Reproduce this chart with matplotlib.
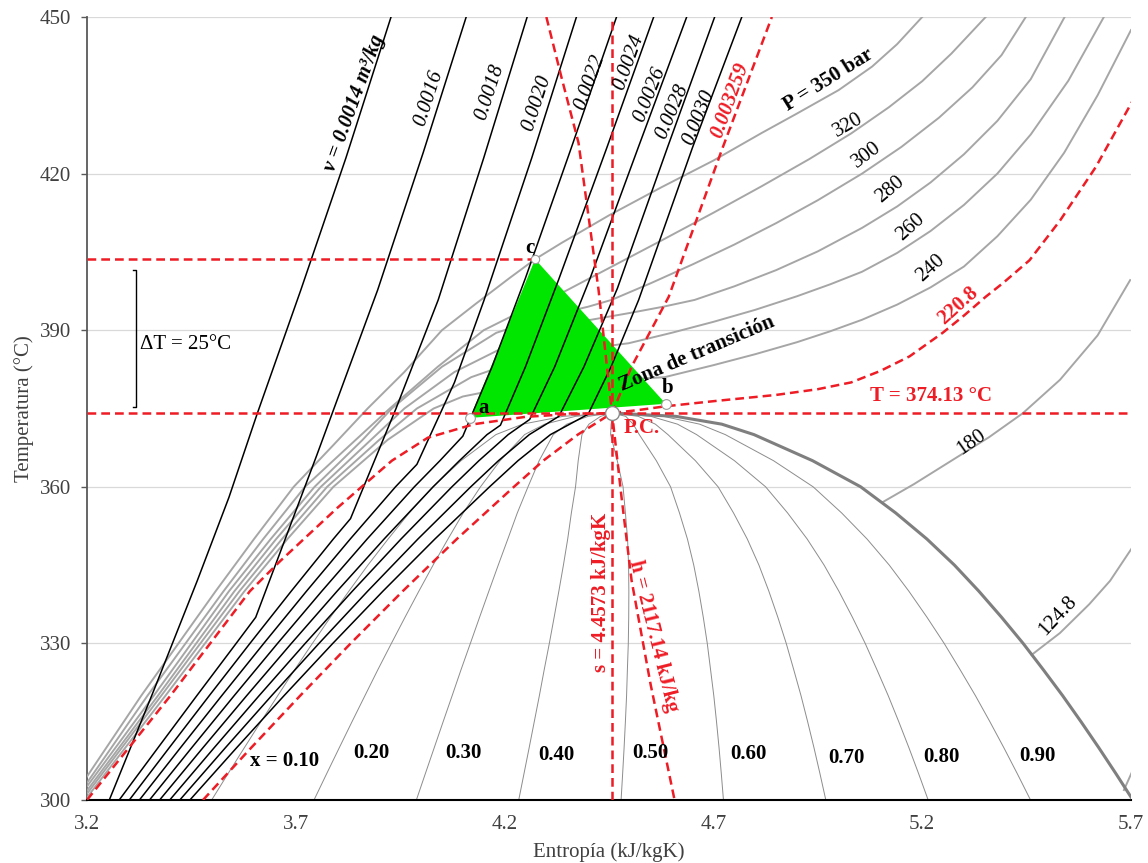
"""
Diagrama T-s del agua cerca del punto crítico
"""
import numpy as np
import matplotlib
matplotlib.use("Agg")
import matplotlib.pyplot as plt

plt.rcParams['font.family'] = ['Liberation Serif', 'DejaVu Serif']

# --- Campana de saturación (T en °C, s en kJ/kgK) ---
SAT_T = [300, 305, 310, 315, 320, 325, 330, 335, 340, 345, 350, 355, 360, 365, 370, 372, 373.5, 374.13]
SAT_SF = [3.2534, 3.3010, 3.3493, 3.3982, 3.4480, 3.4985, 3.5507, 3.6043, 3.6594, 3.7166,
          3.7777, 3.8422, 3.9147, 4.0021, 4.1106, 4.19, 4.31, 4.4573]
SAT_SG = [5.7045, 5.6643, 5.6230, 5.5803, 5.5362, 5.4896, 5.4417, 5.3901, 5.3357, 5.2772,
          5.2112, 5.1364, 5.0526, 4.9375, 4.7971, 4.72, 4.61, 4.4573]

QUALITIES = [0.1, 0.2, 0.3, 0.4, 0.5, 0.6, 0.7, 0.8, 0.9]
QUALITY_TEXT = ['x = 0.10', '0.20', '0.30', '0.40', '0.50', '0.60', '0.70', '0.80', '0.90']
QUALITY_TEXT_S = [3.673, 3.880, 4.101, 4.324, 4.550, 4.783, 5.018, 5.246, 5.477]
QUALITY_TEXT_T = [307.5, 309.0, 309.0, 308.6, 309.0, 308.8, 308.0, 308.2, 308.4]

# --- Isobaras (bar) ---
P350_S = [3.200, 3.330, 3.508, 3.600, 3.695, 3.790, 3.872, 3.960, 4.050, 4.130, 4.212, 4.273,
          4.336, 4.450, 4.576, 4.700, 4.816, 4.900, 5.000, 5.080, 5.140, 5.200]
P350_T = [304.5, 320, 340, 350, 360, 368, 375, 382, 390, 395, 400, 403.6,
          406.7, 412, 417.4, 422.5, 427.8, 431.5, 436.0, 440.5, 444.8, 450]
P320_S = [3.200, 3.345, 3.527, 3.622, 3.722, 3.830, 3.925, 4.040, 4.150, 4.250, 4.336, 4.450,
          4.576, 4.700, 4.816, 4.930, 5.030, 5.120, 5.200, 5.270, 5.352]
P320_T = [303.3, 320, 340, 350, 360, 368, 375, 383, 390, 394, 397.1, 401.9,
          407.2, 412.5, 417.6, 422.8, 427.7, 432.7, 437.7, 443.0, 450]
P300_S = [3.200, 3.360, 3.540, 3.640, 3.745, 3.860, 3.930, 4.050, 4.180, 4.300, 4.400, 4.456,
          4.550, 4.650, 4.750, 4.850, 4.950, 5.056, 5.150, 5.240, 5.320, 5.390, 5.448]
P300_T = [302.6, 320, 340, 350, 360, 369, 375, 383, 389.5, 392.6, 394.5, 395.8,
          399.0, 402.6, 406.4, 410.5, 414.9, 420.0, 425.1, 430.7, 436.5, 442.7, 450]
P280_S = [3.200, 3.370, 3.553, 3.653, 3.760, 3.880, 3.960, 4.080, 4.220, 4.320, 4.400, 4.500,
          4.580, 4.655, 4.750, 4.850, 4.950, 5.056, 5.140, 5.220, 5.300, 5.380, 5.460, 5.541]
P280_T = [301.8, 320, 340, 350, 360, 369, 375, 382, 387.6, 390.4, 391.9, 393.3,
          394.5, 395.8, 398.4, 401.5, 405.1, 409.6, 413.7, 418.3, 423.7, 430.1, 438.1, 450]
P260_S = [3.200, 3.378, 3.565, 3.667, 3.775, 3.900, 3.990, 4.120, 4.220, 4.300, 4.400, 4.497,
          4.600, 4.700, 4.800, 4.900, 4.980, 5.056, 5.140, 5.220, 5.300, 5.380, 5.460, 5.550, 5.635]
P260_T = [301.2, 320, 340, 350, 360, 369, 375, 381, 383.8, 385.3, 386.5, 387.5,
          389.5, 391.6, 393.9, 396.5, 398.8, 401.2, 404.8, 409.0, 414.0, 420.0, 427.5, 437.8, 450]
P240_S = [3.200, 3.388, 3.577, 3.680, 3.790, 3.920, 4.030, 4.100, 4.200, 4.300, 4.400, 4.500,
          4.583, 4.700, 4.800, 4.900, 4.980, 5.056, 5.140, 5.220, 5.300, 5.380, 5.460, 5.540,
          5.620, 5.700]
P240_T = [300.5, 320, 340, 350, 360, 369, 375, 377.3, 378.9, 379.7, 380.2, 380.6,
          381.0, 383.3, 385.4, 387.7, 389.8, 392.0, 394.9, 398.2, 402.2, 408.0, 415.0, 424.0,
          435.0, 447.5]
P180_S = [5.104, 5.180, 5.250, 5.310, 5.360, 5.441, 5.530, 5.620, 5.698]
P180_T = [357.0, 360.5, 364.0, 367.0, 369.5, 374.1, 380.5, 389.0, 399.6]
P1248_S = [5.462, 5.530, 5.600, 5.650, 5.710]
P1248_T = [327.8, 332.0, 337.5, 342.0, 349.2]
PLOW_S = [5.683, 5.707]
PLOW_T = [301.9, 306.2]

# isobara crítica (220.8 bar)
PCRIT_S = [3.200, 3.400, 3.590, 3.663, 3.800, 3.930, 4.016, 4.127, 4.250, 4.350, 4.4573,
           4.520, 4.583, 4.700, 4.850, 4.950, 5.030, 5.100, 5.170, 5.249, 5.300, 5.352,
           5.393, 5.457, 5.530, 5.616, 5.705]
PCRIT_T = [300.0, 320, 340, 345.8, 356, 365, 369.4, 372.0, 373.4, 373.9, 374.13,
           374.7, 375.4, 376.4, 377.6, 378.7, 380.0, 382.2, 385.0, 389.5, 392.8, 396.4,
           399.0, 403.4, 411.0, 421.3, 434.1]

ISOBAR_TEXT = ['P = 350 bar', '320', '300', '280', '260', '240', '180', '124.8']
ISOBAR_TEXT_S = [4.975, 5.023, 5.068, 5.124, 5.172, 5.220, 5.318, 5.525]
ISOBAR_TEXT_T = [437.9, 429.3, 423.6, 416.9, 409.8, 401.9, 368.6, 335.2]
ISOBAR_TEXT_ROT = [32, 30, 37, 40, 42, 42, 35, 47]

# --- Isocoras (m3/kg) ---
V0014_S = [3.2534, 3.360, 3.464, 3.540, 3.608, 3.712, 3.820, 3.928]
V0014_T = [300, 321, 342, 358, 374.1, 397.7, 423, 450]
V0016_S = [3.2771, 3.3699, 3.4631, 3.5572, 3.604, 3.750, 3.896, 4.005, 4.108]
V0016_T = [300, 310, 320, 330, 335.0, 366, 397.7, 424, 450]
V0018_S = [3.3013, 3.3968, 3.4929, 3.5902, 3.6890, 3.7899, 3.831, 3.940, 4.041, 4.150, 4.254]
V0018_T = [300, 310, 320, 330, 340, 350, 353.9, 375, 395.8, 423, 450]
V0020_S = [3.3255, 3.4237, 3.5228, 3.6233, 3.7256, 3.8304, 3.9388, 3.990, 4.080, 4.151, 4.265, 4.372]
V0020_T = [300, 310, 320, 330, 340, 350, 360, 364.3, 380, 395.8, 423, 450]
V0022_S = [3.3497, 3.4506, 3.5526, 3.6563, 3.7622, 3.8709, 3.9839, 4.0451, 4.100, 4.170, 4.250, 4.360, 4.468]
V0022_T = [300, 310, 320, 330, 340, 350, 360, 365, 369.7, 383, 400, 425, 450]
V0024_S = [3.3739, 3.4775, 3.5825, 3.6894, 3.7988, 3.9115, 4.0289, 4.0918, 4.1579, 4.190, 4.250, 4.329, 4.445, 4.557]
V0024_T = [300, 310, 320, 330, 340, 350, 360, 365, 370, 371.8, 383, 399.6, 425, 450]
V0026_S = [3.3981, 3.5044, 3.6123, 3.7225, 3.8354, 3.9520, 4.0739, 4.1385, 4.2086, 4.260, 4.320, 4.405, 4.520, 4.636]
V0026_T = [300, 310, 320, 330, 340, 350, 360, 365, 370, 372.9, 383, 400, 425, 450]
V0028_S = [3.4222, 3.5313, 3.6422, 3.7555, 3.8720, 3.9925, 4.1190, 4.1853, 4.2592, 4.330, 4.390, 4.470, 4.590, 4.703]
V0028_T = [300, 310, 320, 330, 340, 350, 360, 365, 370, 373.5, 383, 398, 425, 450]
V0030_S = [3.4464, 3.5582, 3.6720, 3.7886, 3.9086, 4.0331, 4.1640, 4.2320, 4.3098, 4.400, 4.455, 4.521, 4.650, 4.768]
V0030_T = [300, 310, 320, 330, 340, 350, 360, 365, 370, 373.9, 383, 395.8, 425, 450]
# isocora crítica 0.003259
VCRIT_S = [3.4778, 3.5930, 3.7107, 3.8314, 3.9560, 4.0856, 4.2224, 4.2925, 4.3754, 4.4573,
           4.504, 4.593, 4.720, 4.840]
VCRIT_T = [300, 310, 320, 330, 340, 350, 360, 365, 370, 374.13,
           383, 396.4, 424.5, 450]

ISOCHORE_TEXT = ['v = 0.0014 m³/kg', '0.0016', '0.0018', '0.0020', '0.0022',
                 '0.0024', '0.0026', '0.0028', '0.0030']
ISOCHORE_TEXT_S = [3.841, 4.019, 4.165, 4.276, 4.403, 4.497, 4.547, 4.602, 4.665]
ISOCHORE_TEXT_T = [433.5, 434.5, 435.6, 433.5, 437.5, 441.4, 435.1, 431.8, 430.8]
ISOCHORE_TEXT_ROT = [70, 72, 72, 72, 70, 70, 68, 67, 68]

# --- Entalpía crítica h = 2117.14 kJ/kg ---
HCRIT_S = [4.300, 4.336, 4.377, 4.425, 4.4573, 4.480, 4.504, 4.550, 4.607]
HCRIT_T = [450, 438.5, 425.9, 397.7, 374.13, 358, 342.1, 322, 300]

# --- Punto crítico y zona de transición ---
S_CRIT = 4.4573
T_CRIT = 374.13
PT_A = (4.117, 373.2)
PT_B = (4.586, 375.9)
PT_C = (4.273, 403.6)

RED = '#ee1c25'
DASH = (0, (3.5, 2.0))
FS = 15


def draw_lines(ax):
    # líneas de calidad dentro de la campana
    sat_t = np.array(SAT_T)
    sf = np.array(SAT_SF)
    sg = np.array(SAT_SG)
    for x in QUALITIES:
        ax.plot(sf + x * (sg - sf), sat_t, color='#8c8c8c', lw=0.7, zorder=2)

    # isobaras grises
    for s, t in [(P350_S, P350_T), (P320_S, P320_T), (P300_S, P300_T), (P280_S, P280_T),
                 (P260_S, P260_T), (P240_S, P240_T), (P180_S, P180_T),
                 (P1248_S, P1248_T), (PLOW_S, PLOW_T)]:
        ax.plot(s, t, color='#a6a6a6', lw=1.4, zorder=3, solid_joinstyle='round')

    # campana
    ax.plot(sg, sat_t, color='#7f7f7f', lw=2.2, zorder=4)

    # zona de transición
    tri = plt.Polygon([PT_A, PT_B, PT_C], closed=True, facecolor='#00e600',
                      edgecolor='none', zorder=5)
    ax.add_patch(tri)

    # isocoras negras
    for s, t in [(V0014_S, V0014_T), (V0016_S, V0016_T), (V0018_S, V0018_T),
                 (V0020_S, V0020_T), (V0022_S, V0022_T), (V0024_S, V0024_T),
                 (V0026_S, V0026_T), (V0028_S, V0028_T), (V0030_S, V0030_T)]:
        ax.plot(s, t, color='black', lw=1.1, zorder=6)

    # líneas críticas en rojo
    kw = dict(color=RED, lw=1.8, ls=DASH, zorder=7)
    ax.plot(PCRIT_S, PCRIT_T, **kw)
    ax.plot(VCRIT_S, VCRIT_T, **kw)
    ax.plot(HCRIT_S, HCRIT_T, **kw)
    ax.plot([S_CRIT, S_CRIT], [300, 450], **kw)
    ax.plot([3.2, 5.7], [T_CRIT, T_CRIT], **kw)
    ax.plot([3.2, PT_C[0]], [PT_C[1], PT_C[1]], **kw)

    # puntos a, b, c y P.C.
    for p, ms in [(PT_A, 7), (PT_B, 7), (PT_C, 6)]:
        ax.plot(*p, 'o', ms=ms, mfc='white', mec='#9a9a9a', mew=0.8, zorder=9)
    ax.plot(S_CRIT, T_CRIT, 'o', ms=10, mfc='white', mec='#8a8a8a', mew=1.0, zorder=9)


def draw_labels(ax):
    for txt, s, t in zip(QUALITY_TEXT, QUALITY_TEXT_S, QUALITY_TEXT_T):
        ax.text(s, t, txt, fontsize=FS, fontweight='bold', ha='center', va='center', zorder=10)

    for i, (txt, s, t, r) in enumerate(zip(ISOBAR_TEXT, ISOBAR_TEXT_S, ISOBAR_TEXT_T, ISOBAR_TEXT_ROT)):
        ax.text(s, t, txt, fontsize=FS, fontweight='bold' if i == 0 else 'normal',
                rotation=r, rotation_mode='anchor', ha='center', va='center', zorder=10)
    ax.text(5.285, 394.8, '220.8', fontsize=FS, fontweight='bold', color=RED,
            rotation=42, rotation_mode='anchor', ha='center', va='center', zorder=10)

    for i, (txt, s, t, r) in enumerate(zip(ISOCHORE_TEXT, ISOCHORE_TEXT_S, ISOCHORE_TEXT_T, ISOCHORE_TEXT_ROT)):
        ax.text(s, t, txt, fontsize=FS, style='italic', fontweight='bold' if i == 0 else 'normal',
                rotation=r, rotation_mode='anchor', ha='center', va='center', zorder=10)
    ax.text(4.739, 434.1, '0.003259', fontsize=FS, style='italic', fontweight='bold', color=RED,
            rotation=70, rotation_mode='anchor', ha='center', va='center', zorder=10)

    ax.text(5.22, 377.4, 'T = 374.13 °C', fontsize=FS, fontweight='bold', color=RED,
            ha='center', va='center', zorder=10)
    ax.text(4.432, 339.8, 's = 4.4573 kJ/kgK', fontsize=FS, fontweight='bold', color=RED,
            rotation=90, rotation_mode='anchor', ha='center', va='center', zorder=10)
    ax.text(4.556, 331.4, 'h = 2117.14 kJ/kg', fontsize=FS, fontweight='bold', color=RED,
            rotation=-76, rotation_mode='anchor', ha='center', va='center', zorder=10)
    ax.text(4.486, 371.3, 'P.C.', fontsize=FS, fontweight='bold', color=RED,
            ha='left', va='center', zorder=10)

    ax.text(4.660, 385.4, 'Zona de transición', fontsize=FS, fontweight='bold',
            rotation=23, rotation_mode='anchor', ha='center', va='center', zorder=10)
    ax.text(4.149, 375.0, 'a', fontsize=FS, fontweight='bold', ha='center', va='center', zorder=10)
    ax.text(4.590, 379.0, 'b', fontsize=FS, fontweight='bold', ha='center', va='center', zorder=10)
    ax.text(4.261, 405.8, 'c', fontsize=FS, fontweight='bold', ha='center', va='center', zorder=10)

    # corchete de ΔT
    ax.plot([3.311, 3.318, 3.318, 3.311], [401.5, 401.5, 375.2, 375.2], color='black', lw=1.0, zorder=8)
    ax.text(3.327, 387.2, 'ΔT = 25°C', fontsize=FS, ha='left', va='center', zorder=10)


def main():
    fig = plt.figure(figsize=(11.48, 8.63), dpi=100)
    ax = fig.add_axes([87 / 1148, 1 - 800 / 863, (1131 - 87) / 1148, (800 - 17) / 863])

    ax.set_xlim(3.2, 5.7)
    ax.set_ylim(300, 450)
    ax.set_xticks(np.arange(3.2, 5.71, 0.5))
    ax.set_yticks(np.arange(300, 451, 30))
    ax.set_xticklabels(['3.2', '3.7', '4.2', '4.7', '5.2', '5.7'])
    ax.grid(axis='y', color='#d9d9d9', lw=0.9, zorder=0)
    ax.set_axisbelow(True)

    for side in ['top', 'right']:
        ax.spines[side].set_visible(False)
    ax.spines['left'].set_color('#595959')
    ax.spines['left'].set_linewidth(1.3)
    ax.spines['bottom'].set_color('black')
    ax.spines['bottom'].set_linewidth(1.5)
    ax.tick_params(axis='y', length=4.5, width=1.0, color='#595959', pad=7,
                   labelsize=15, labelcolor='#404040')
    ax.tick_params(axis='x', length=0, pad=11, labelsize=15, labelcolor='#404040')

    ax.set_xlabel('Entropía (kJ/kgK)', fontsize=15, color='#404040', labelpad=6)
    ax.set_ylabel('Temperatura (°C)', fontsize=15, color='#404040', labelpad=4)

    draw_lines(ax)
    draw_labels(ax)

    fig.savefig('out.png', dpi=100)
    plt.close(fig)


if __name__ == "__main__":
    main()
